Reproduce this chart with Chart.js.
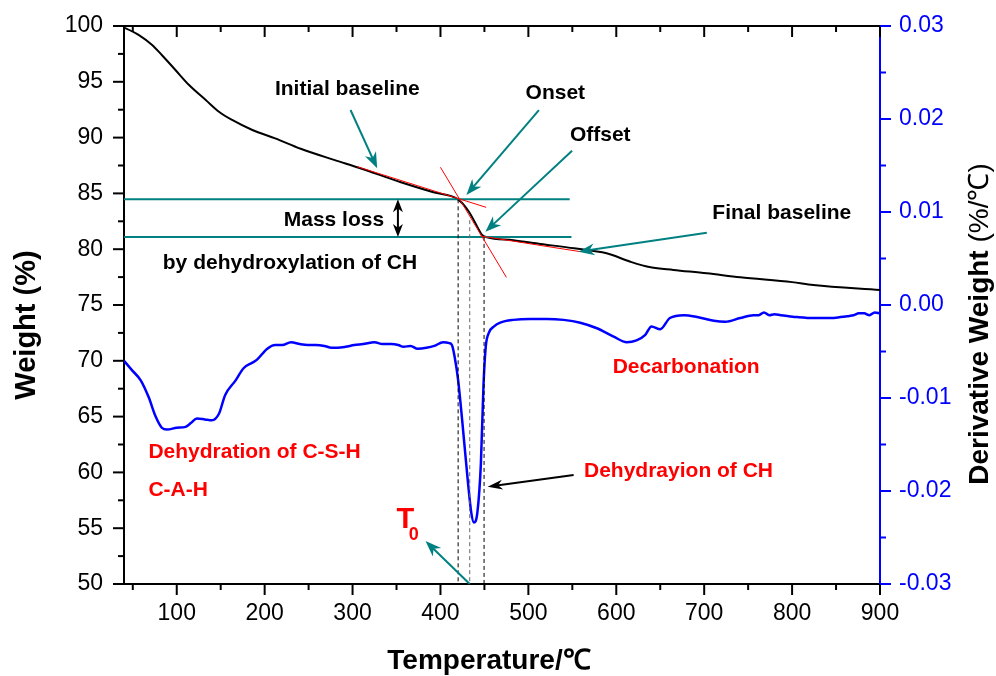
<!DOCTYPE html>
<html>
<head>
<meta charset="utf-8">
<script src="https://cdn.jsdelivr.net/npm/chart.js@4.4.1/dist/chart.umd.min.js"></script>
<style>
  html, body { margin: 0; padding: 0; background: #fff; }
</style>
</head>
<body>
<canvas id="tgaChart" width="996" height="676"></canvas>
<script>
// TG curve: weight (%) vs temperature (°C)
const tgTemp   = [40, 42, 57, 72, 83, 98.5, 114, 133, 148, 163, 186, 212, 241, 279, 307, 355, 392, 420, 432, 442, 447, 453, 483, 514, 552, 589, 616, 639, 665, 703, 741, 800, 824, 900];
const tgWeight = [99.85, 99.79, 99.19, 98.30, 97.40, 96.06, 94.71, 93.37, 92.32, 91.58, 90.68, 89.93, 89.0, 88.0, 87.3, 86.0, 85.1, 84.47, 83.4, 82.0, 81.3, 81.07, 80.8, 80.47, 80.08, 79.63, 78.88, 78.38, 78.14, 77.84, 77.48, 77.05, 76.8, 76.35];

// DTG curve: derivative weight (%/°C) vs temperature (°C)
const dtgTemp = [40, 49, 59, 68, 76, 83, 89, 100, 110, 116, 123, 132, 140, 148, 155, 167, 176, 186, 191, 203, 212, 220, 230, 240, 249, 258, 268, 276, 283, 292, 302, 312, 325, 334, 344, 352, 358, 366, 374, 384, 393, 403, 410, 413, 416, 420, 425, 431, 435, 438, 442, 446, 449, 451.5, 455, 461, 468, 483, 502, 521, 540, 559, 578, 597, 612, 623, 633, 640, 650, 661, 677, 692, 711, 724, 741, 756, 762, 768, 774, 780, 787, 796, 806, 825, 844, 855, 863, 870, 876, 882, 888, 894, 900];
const dtgValue = [-0.0060, -0.0070, -0.0081, -0.0099, -0.0120, -0.0132, -0.0134, -0.0132, -0.0131, -0.0127, -0.0122, -0.0123, -0.0124, -0.0117, -0.0097, -0.0081, -0.0068, -0.0062, -0.0059, -0.0047, -0.0043, -0.0043, -0.0040, -0.0042, -0.0043, -0.0043, -0.0044, -0.0046, -0.0046, -0.0045, -0.0043, -0.0042, -0.0040, -0.0042, -0.0042, -0.0043, -0.0045, -0.0044, -0.0047, -0.0046, -0.0044, -0.0040, -0.0041, -0.0043, -0.0055, -0.0080, -0.0127, -0.0188, -0.0223, -0.0234, -0.0223, -0.0170, -0.0085, -0.0045, -0.0030, -0.0023, -0.0019, -0.0016, -0.0015, -0.0015, -0.0016, -0.0019, -0.0025, -0.0034, -0.0040, -0.0038, -0.0032, -0.0023, -0.0026, -0.0014, -0.0011, -0.0013, -0.0017, -0.0018, -0.0014, -0.0011, -0.0011, -0.0008, -0.0011, -0.0010, -0.0011, -0.0012, -0.0013, -0.0014, -0.0014, -0.0013, -0.0012, -0.0011, -0.0009, -0.0009, -0.0011, -0.0008, -0.0009];

// axis ticks
const xTicks  = [100, 200, 300, 400, 500, 600, 700, 800, 900];
const xMinor  = [50, 150, 250, 350, 450, 550, 650, 750, 850];
const yTicks  = [50, 55, 60, 65, 70, 75, 80, 85, 90, 95, 100];
const yMinor  = [52.5, 57.5, 62.5, 67.5, 72.5, 77.5, 82.5, 87.5, 92.5, 97.5];
const y2Ticks = [-0.03, -0.02, -0.01, 0, 0.01, 0.02, 0.03];
const y2Minor = [-0.025, -0.015, -0.005, 0.005, 0.015, 0.025];

// onset / offset construction, in (temperature, weight) units
const baseLevels = [[40, 547, 84.47], [40, 549, 81.1]];
const tangents = [[305, 87.4, 452, 83.75], [400, 87.34, 475, 77.48], [445.5, 81.18, 559, 79.78]];
const dropLines = [[420.1, 84.47, '#000'], [433.3, 82.6, '#666'], [449.6, 81.1, '#000']];
const tealArrows = [
  [297.7, 92.47, 328, 87.25],
  [512, 92.47, 429.5, 84.86],
  [549.7, 88.83, 451.1, 81.57],
  [703, 81.48, 557, 79.78],
  [433.3, 50, 383, 53.85]
];
const notes = [
  ['Initial baseline', 294, 94.33, '#000', 'center'],
  ['Onset', 530.7, 93.97, '#000', 'center'],
  ['Offset', 581.8, 90.23, '#000', 'center'],
  ['Mass loss', 278.8, 82.62, '#000', 'center'],
  ['by dehydroxylation of CH', 228.8, 78.79, '#000', 'center'],
  ['Final baseline', 788.3, 83.22, '#000', 'center'],
  ['Decarbonation', 679.5, 69.47, '#f00', 'center'],
  ['Dehydration of C-S-H', 67.8, 61.8, '#f00', 'left'],
  ['C-A-H', 67.8, 58.42, '#f00', 'left'],
  ['Dehydrayion of CH', 670.8, 60.15, '#f00', 'center']
];

const TEAL = '#008080';
const BLUE = '#0000ff';
const FONT = '"Liberation Sans", Arial, sans-serif';

function arrowHead(ctx, x1, y1, x2, y2, len, half) {
  const a = Math.atan2(y2 - y1, x2 - x1);
  const c = Math.cos(a), s = Math.sin(a);
  ctx.beginPath();
  ctx.moveTo(x2, y2);
  ctx.lineTo(x2 - len * c + half * s, y2 - len * s - half * c);
  ctx.lineTo(x2 - len * 0.7 * c, y2 - len * 0.7 * s);
  ctx.lineTo(x2 - len * c - half * s, y2 - len * s + half * c);
  ctx.closePath();
  ctx.fill();
}

function arrow(ctx, x1, y1, x2, y2, color, width, len, half) {
  const a = Math.atan2(y2 - y1, x2 - x1);
  ctx.strokeStyle = color;
  ctx.fillStyle = color;
  ctx.lineWidth = width;
  ctx.beginPath();
  ctx.moveTo(x1, y1);
  ctx.lineTo(x2 - len * 0.6 * Math.cos(a), y2 - len * 0.6 * Math.sin(a));
  ctx.stroke();
  arrowHead(ctx, x1, y1, x2, y2, len, half);
}

const framePlugin = {
  id: 'frame',
  afterDatasetsDraw(chart) {
    const { ctx, chartArea: area } = chart;
    const x = chart.scales.x, y = chart.scales.y, y2 = chart.scales.y2;
    const px = v => x.getPixelForValue(v);
    const py = v => y.getPixelForValue(v);
    ctx.save();

    // top frame line
    ctx.strokeStyle = '#000';
    ctx.lineWidth = 2;
    ctx.beginPath();
    ctx.moveTo(area.left - 1, area.top);
    ctx.lineTo(area.right, area.top);
    ctx.stroke();

    // tick marks: outward on bottom/left/right, inward on top
    ctx.lineWidth = 2;
    const tickX = (vals, len) => vals.forEach(v => {
      const p = px(v);
      ctx.beginPath(); ctx.moveTo(p, area.bottom); ctx.lineTo(p, area.bottom + len); ctx.stroke();
      ctx.beginPath(); ctx.moveTo(p, area.top); ctx.lineTo(p, area.top + len); ctx.stroke();
    });
    tickX(xTicks, 11);
    tickX(xMinor, 6);
    const tickY = (vals, len) => vals.forEach(v => {
      const p = py(v);
      ctx.beginPath(); ctx.moveTo(area.left, p); ctx.lineTo(area.left - len, p); ctx.stroke();
    });
    tickY(yTicks, 11);
    tickY(yMinor, 6);
    ctx.strokeStyle = BLUE;
    const tickY2 = (vals, len) => vals.forEach(v => {
      const p = y2.getPixelForValue(v);
      ctx.beginPath(); ctx.moveTo(area.right, p); ctx.lineTo(area.right + len, p); ctx.stroke();
    });
    tickY2(y2Ticks, 11);
    tickY2(y2Minor, 6);

    // baseline levels
    ctx.strokeStyle = TEAL;
    ctx.lineWidth = 2;
    baseLevels.forEach(([a, b, v]) => {
      ctx.beginPath(); ctx.moveTo(px(a), py(v)); ctx.lineTo(px(b), py(v)); ctx.stroke();
    });

    // dashed drop lines to the temperature axis
    ctx.lineWidth = 1;
    ctx.setLineDash([4, 3]);
    dropLines.forEach(([t, top, c]) => {
      ctx.strokeStyle = c;
      ctx.beginPath(); ctx.moveTo(px(t), py(top)); ctx.lineTo(px(t), area.bottom); ctx.stroke();
    });
    ctx.setLineDash([]);

    // tangent lines
    ctx.strokeStyle = '#ff0000';
    ctx.lineWidth = 1;
    tangents.forEach(([a, b, c, d]) => {
      ctx.beginPath(); ctx.moveTo(px(a), py(b)); ctx.lineTo(px(c), py(d)); ctx.stroke();
    });

    // arrows
    tealArrows.forEach(([a, b, c, d]) => arrow(ctx, px(a), py(b), px(c), py(d), TEAL, 2, 16, 6));
    arrow(ctx, px(551.5), py(59.77), px(453.7), py(58.72), '#000', 2, 15, 5);
    // mass loss double arrow
    const mx = px(351.6), m1 = py(84.47), m2 = py(81.1);
    ctx.strokeStyle = '#000'; ctx.fillStyle = '#000'; ctx.lineWidth = 2;
    ctx.beginPath(); ctx.moveTo(mx, m1 + 8); ctx.lineTo(mx, m2 - 8); ctx.stroke();
    arrowHead(ctx, mx, (m1 + m2) / 2, mx, m1, 13, 5);
    arrowHead(ctx, mx, (m1 + m2) / 2, mx, m2, 13, 5);

    // text notes
    ctx.font = 'bold 21px ' + FONT;
    ctx.textBaseline = 'middle';
    notes.forEach(([t, a, b, c, al]) => {
      ctx.fillStyle = c;
      ctx.textAlign = al;
      ctx.fillText(t, px(a), py(b));
    });
    ctx.fillStyle = '#f00';
    ctx.textAlign = 'center';
    ctx.font = 'bold 29px ' + FONT;
    ctx.fillText('T', px(360.2), py(55.73));
    ctx.font = 'bold 18px ' + FONT;
    ctx.fillText('0', px(369.7), py(54.4));

    // axis titles
    ctx.fillStyle = '#000';
    ctx.font = 'bold 28px ' + FONT;
    ctx.textAlign = 'center';
    ctx.fillText('Temperature/℃', 489, 661);

    ctx.save();
    ctx.translate(27, 325);
    ctx.rotate(-Math.PI / 2);
    ctx.font = 'bold 29px ' + FONT;
    ctx.fillText('Weight (%)', 0, 0);
    ctx.restore();

    ctx.save();
    ctx.translate(980, 324);
    ctx.rotate(-Math.PI / 2);
    const partA = 'Derivative Weight ';
    const partB = '(%/℃)';
    ctx.font = 'bold 28px ' + FONT;
    const wA = ctx.measureText(partA).width;
    ctx.font = '28px ' + FONT;
    const wB = ctx.measureText(partB).width;
    ctx.textAlign = 'left';
    ctx.font = 'bold 28px ' + FONT;
    ctx.fillText(partA, -(wA + wB) / 2, 0);
    ctx.font = '28px ' + FONT;
    ctx.fillText(partB, -(wA + wB) / 2 + wA, 0);
    ctx.restore();

    ctx.restore();
  }
};

// fixed axis boxes so the plot area sits at 124..880 x 26..584
function fixBox(w, h) {
  return s => {
    if (w) s.width = w;
    if (h) s.height = h;
    s.paddingTop = 0; s.paddingBottom = 0; s.paddingLeft = 0; s.paddingRight = 0;
  };
}

const ctx = document.getElementById('tgaChart').getContext('2d');
new Chart(ctx, {
  type: 'line',
  data: {
    datasets: [
      {
        label: 'Weight',
        data: tgTemp.map((t, i) => ({ x: t, y: tgWeight[i] })),
        yAxisID: 'y',
        borderColor: '#000',
        borderWidth: 2,
        pointRadius: 0,
        cubicInterpolationMode: 'monotone'
      },
      {
        label: 'Derivative Weight',
        data: dtgTemp.map((t, i) => ({ x: t, y: dtgValue[i] })),
        yAxisID: 'y2',
        borderColor: BLUE,
        borderWidth: 2.5,
        pointRadius: 0,
        cubicInterpolationMode: 'monotone'
      }
    ]
  },
  options: {
    responsive: false,
    animation: false,
    layout: { padding: { top: 26 } },
    plugins: { legend: { display: false }, tooltip: { enabled: false } },
    scales: {
      x: {
        type: 'linear',
        min: 40,
        max: 900,
        afterBuildTicks: s => { s.ticks = xTicks.map(v => ({ value: v })); },
        afterFit: fixBox(0, 92),
        grid: { display: false, drawTicks: false },
        border: { display: true, color: '#000', width: 2 },
        ticks: { color: '#000', padding: 16, font: { family: FONT, size: 23 } }
      },
      y: {
        position: 'left',
        min: 50,
        max: 100,
        afterBuildTicks: s => { s.ticks = yTicks.map(v => ({ value: v })); },
        afterFit: fixBox(124, 0),
        grid: { display: false, drawTicks: false },
        border: { display: true, color: '#000', width: 2 },
        ticks: { color: '#000', padding: 21, font: { family: FONT, size: 23 } }
      },
      y2: {
        position: 'right',
        min: -0.03,
        max: 0.03,
        afterBuildTicks: s => { s.ticks = y2Ticks.map(v => ({ value: v })); },
        afterFit: fixBox(116, 0),
        grid: { display: false, drawTicks: false },
        border: { display: true, color: BLUE, width: 2 },
        ticks: {
          color: BLUE,
          padding: 19,
          font: { family: FONT, size: 23 },
          callback: v => v.toFixed(2)
        }
      }
    }
  },
  plugins: [framePlugin]
});
</script>
</body>
</html>
